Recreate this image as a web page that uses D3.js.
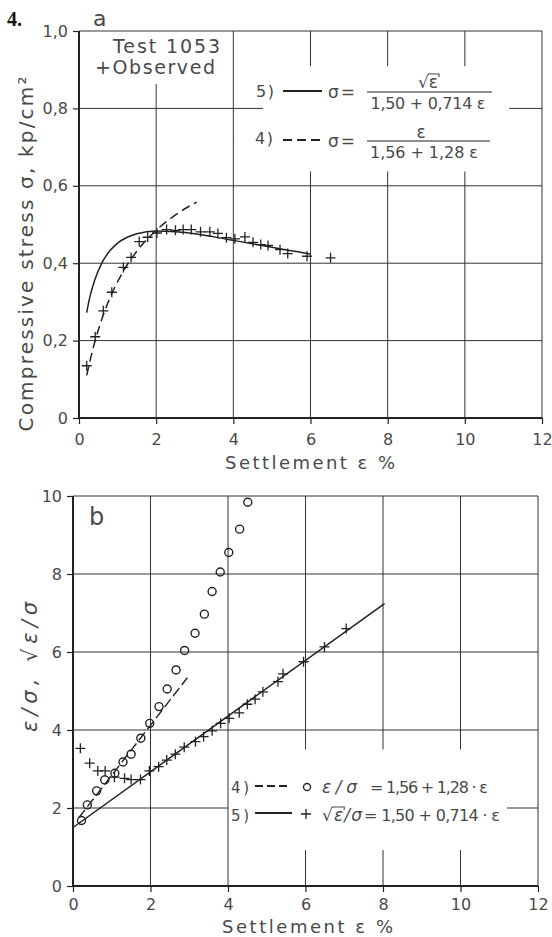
<!DOCTYPE html>
<html><head><meta charset="utf-8">
<script src="https://cdn.jsdelivr.net/npm/d3@7"></script>
<style>
body{margin:0;background:#fff}
svg{display:block}
text{font-family:'DejaVu Sans',sans-serif;fill:#4a4a4a}
</style>
</head><body>
<svg id="c" width="552" height="937"></svg>
<script>
// ---------- data ----------
const xTicks = [0, 2, 4, 6, 8, 10, 12];
const xTickLabels = ["0", "2", "4", "6", "8", "10", "12"];
const stressTicks = [0, 0.2, 0.4, 0.6, 0.8, 1.0];
const stressTickLabels = ["0", "0,2", "0,4", "0,6", "0,8", "1,0"];
const ratioTicks = [0, 2, 4, 6, 8, 10];
const ratioTickLabels = ["0", "2", "4", "6", "8", "10"];

// (a) observed stress vs settlement
const obsEps    = [0.2, 0.42, 0.63, 0.85, 1.15, 1.35, 1.56, 1.78, 2.02, 2.27, 2.5, 2.7, 2.91, 3.15, 3.39, 3.6, 3.82, 4.04, 4.3, 4.51, 4.71, 4.9, 5.21, 5.41, 5.91, 6.52];
const obsStress = [0.135, 0.21, 0.277, 0.325, 0.389, 0.415, 0.456, 0.467, 0.478, 0.487, 0.485, 0.487, 0.487, 0.481, 0.481, 0.477, 0.466, 0.463, 0.468, 0.454, 0.448, 0.446, 0.435, 0.425, 0.418, 0.414];

// (a) curve 5) solid
const fit5Eps    = [0.2, 0.25, 0.3, 0.4, 0.6, 0.8, 1.0, 1.25, 1.5, 2.0, 2.5, 3.0, 3.5, 4.0, 4.5, 5.0, 5.5, 6.0];
const fit5Stress = [0.272, 0.298, 0.320, 0.354, 0.402, 0.432, 0.452, 0.467, 0.476, 0.483, 0.481, 0.476, 0.468, 0.459, 0.450, 0.441, 0.432, 0.424];
// (a) curve 4) dashed
const fit4Eps    = [0.2, 0.3, 0.4, 0.6, 0.8, 1.0, 1.25, 1.5, 2.0, 2.5, 3.05];
const fit4Stress = [0.110, 0.154, 0.193, 0.258, 0.310, 0.352, 0.396, 0.431, 0.485, 0.525, 0.558];

// (b) circles: eps/sigma
const circEps   = [0.22, 0.37, 0.61, 0.82, 1.08, 1.29, 1.5, 1.75, 1.98, 2.22, 2.43, 2.66, 2.88, 3.15, 3.39, 3.59, 3.8, 4.02, 4.3, 4.51];
const circRatio = [1.68, 2.08, 2.44, 2.72, 2.89, 3.18, 3.38, 3.79, 4.17, 4.6, 5.05, 5.54, 6.04, 6.48, 6.97, 7.55, 8.05, 8.55, 9.15, 9.84];
// (b) crosses: sqrt(eps)/sigma
const crossEps   = [0.19, 0.43, 0.64, 0.83, 1.07, 1.33, 1.5, 1.74, 1.97, 2.21, 2.42, 2.64, 2.87, 3.16, 3.37, 3.59, 3.81, 4.03, 4.29, 4.5, 4.7, 4.9, 5.29, 5.42, 5.95, 6.49, 7.05];
const crossRatio = [3.53, 3.15, 2.95, 2.95, 2.79, 2.76, 2.73, 2.73, 2.95, 3.06, 3.23, 3.38, 3.56, 3.7, 3.83, 3.98, 4.17, 4.3, 4.44, 4.66, 4.79, 4.98, 5.24, 5.44, 5.75, 6.13, 6.6];
// (b) straight lines (end points)
const line4Eps = [0.15, 2.95], line4Ratio = [1.75, 5.34];
const line5Eps = [0.0, 8.04],  line5Ratio = [1.50, 7.24];

// ---------- drawing ----------
const svg = d3.select("#c");
const INK = "#222", GRID = "#333";

const xa = d3.scaleLinear().domain([0, 12]).range([79, 542]);
const ya = d3.scaleLinear().domain([0, 1]).range([418, 31]);
const xb = d3.scaleLinear().domain([0, 12]).range([73, 538]);
const yb = d3.scaleLinear().domain([0, 10]).range([886, 496]);

function segments(lo, hi, gaps) {
  let segs = [[lo, hi]];
  (gaps || []).forEach(([a, b]) => {
    const out = [];
    segs.forEach(([s, e]) => {
      if (b <= s || a >= e) out.push([s, e]);
      else { if (a > s) out.push([s, a]); if (b < e) out.push([b, e]); }
    });
    segs = out;
  });
  return segs;
}

function grid(g, xs, ys, xt, yt, vGaps, hGaps) {
  const [x0, x1] = xs.domain(), [y0, y1] = ys.domain();
  xt.filter(t => t !== 0).forEach(t => {
    segments(y0, y1, vGaps[t]).forEach(([a, b]) => {
      g.append("line").attr("x1", xs(t)).attr("x2", xs(t)).attr("y1", ys(a)).attr("y2", ys(b))
        .attr("stroke", GRID).attr("stroke-width", 1);
    });
  });
  yt.filter(t => t !== 0).forEach(t => {
    segments(x0, x1, hGaps[t]).forEach(([a, b]) => {
      g.append("line").attr("y1", ys(t)).attr("y2", ys(t)).attr("x1", xs(a)).attr("x2", xs(b))
        .attr("stroke", GRID).attr("stroke-width", 1);
    });
  });
}

function axes(g, xs, ys, xt, xl, yt, yl, xPad, yPad) {
  const ax = g.append("g").attr("transform", `translate(0,${ys(0)})`)
    .call(d3.axisBottom(xs).tickValues(xt).tickFormat((d, i) => xl[i]).tickSize(6).tickPadding(xPad));
  const ay = g.append("g").attr("transform", `translate(${xs(0)},0)`)
    .call(d3.axisLeft(ys).tickValues(yt).tickFormat((d, i) => yl[i]).tickSize(6).tickPadding(yPad));
  [ax, ay].forEach(a => {
    a.select(".domain").attr("stroke", INK).attr("stroke-width", 2);
    a.selectAll(".tick line").attr("stroke", INK).attr("stroke-width", 1.2);
    a.selectAll(".tick text").attr("font-size", 16).attr("fill", "#4a4a4a")
      .style("font-family", "'DejaVu Sans',sans-serif");
  });
  ax.select(".domain").attr("d", `M${xs.range()[0]},0H${xs.range()[1]}`);
  ay.select(".domain").attr("d", `M0,${ys.range()[0]}V${ys.range()[1]}`);
}

const plus = "M-5,0H5M0,-5V5";

// helpers
function T(x, y, s, size, opts = {}) {
  const t = svg.append("text").attr("x", x).attr("y", y).text(s).attr("font-size", size);
  if (opts.anchor) t.attr("text-anchor", opts.anchor);
  if (opts.len) t.attr("textLength", opts.len).attr("lengthAdjust", "spacing");
  if (opts.italic) t.attr("font-style", "italic");
  return t;
}
function L(x1, y1, x2, y2, w = 1.4, dash = null) {
  const l = svg.append("line").attr("x1", x1).attr("y1", y1).attr("x2", x2).attr("y2", y2)
    .attr("stroke", INK).attr("stroke-width", w);
  if (dash) l.attr("stroke-dasharray", dash);
  return l;
}
// overline above the radicand of a "√ε" that starts at character index idx
function overline(t, idx) {
  const n = t.node();
  const b1 = n.getExtentOfChar(idx - 1), b2 = n.getExtentOfChar(idx);
  const y = b1.y + 2;
  svg.append("path").attr("d", `M${b1.x + b1.width - 1},${y}H${b2.x + b2.width + 1}v3`)
    .attr("fill", "none").attr("stroke", "#4a4a4a").attr("stroke-width", 1.1);
}

// ===== chart a =====
const ga = svg.append("g");
grid(ga, xa, ya, xTicks, stressTicks,
  {2: [[0.863, 1.01]], 6: [[0.637, 0.909]], 8: [[0.637, 0.909]], 10: [[0.637, 0.909]]},
  {0.8: [[4.77, 11.15]]});
axes(ga, xa, ya, xTicks, xTickLabels, stressTicks, stressTickLabels, 10, 5);

const lineA = d3.line().curve(d3.curveMonotoneX);
ga.append("path").attr("d", lineA(fit5Eps.map((e, i) => [xa(e), ya(fit5Stress[i])])))
  .attr("fill", "none").attr("stroke", INK).attr("stroke-width", 1.5);
ga.append("path").attr("d", lineA(fit4Eps.map((e, i) => [xa(e), ya(fit4Stress[i])])))
  .attr("fill", "none").attr("stroke", INK).attr("stroke-width", 1.5).attr("stroke-dasharray", "9,5");
ga.selectAll(".obs").data(obsEps).join("path").attr("class", "obs")
  .attr("transform", (d, i) => `translate(${xa(d)},${ya(obsStress[i])})`)
  .attr("d", plus).attr("stroke", INK).attr("stroke-width", 1.3).attr("fill", "none");

// labels a
svg.append("text").attr("x", 7).attr("y", 26).text("4.")
  .style("font-family", "'Liberation Serif',serif").attr("font-weight", "bold").attr("font-size", 20).style("fill", "#111");
svg.append("text").attr("x", 93).attr("y", 26).text("a").attr("font-size", 22);
svg.append("text").attr("x", 113).attr("y", 53).text("Test 1053").attr("font-size", 19)
  .attr("textLength", 107).attr("lengthAdjust", "spacing");
svg.append("text").attr("x", 95).attr("y", 74).text("+Observed").attr("font-size", 19)
  .attr("textLength", 120).attr("lengthAdjust", "spacing");

// legend a
T(256, 97, "5)", 16, {len: 18});
L(283, 91, 322, 91, 2);
T(328, 98, "σ =", 17, {len: 27});
const num5 = T(428, 88, "√ε", 17, {anchor: "middle"});
overline(num5, 1);
L(367, 92, 492, 92, 1.2);
T(428, 109, "1,50 + 0,714 ε", 16, {anchor: "middle", len: 115});
T(255, 144, "4)", 16, {len: 18});
L(283, 140, 322, 140, 2, "9,5");
T(328, 147, "σ =", 17, {len: 27});
T(421, 138, "ε", 17, {anchor: "middle"});
L(367, 141, 490, 141, 1.2);
T(424, 158, "1,56 + 1,28 ε", 16, {anchor: "middle", len: 108});

// axis titles a
svg.append("text").attr("transform", "translate(33,254) rotate(-90)").attr("text-anchor", "middle")
  .attr("font-size", 20).attr("textLength", 355).attr("lengthAdjust", "spacing")
  .text("Compressive stress  σ,  kp/cm²");
svg.append("text").attr("x", 225).attr("y", 469).attr("font-size", 18)
  .attr("textLength", 170).attr("lengthAdjust", "spacing").text("Settlement  ε %");

// ===== chart b =====
const gb = svg.append("g");
grid(gb, xb, yb, xTicks, ratioTicks,
  {6: [[0.92, 3.5]], 8: [[0.92, 3.5]], 10: [[0.92, 3.5]]},
  {2: [[4.0, 11.2]]});
axes(gb, xb, yb, xTicks, xTickLabels, ratioTicks, ratioTickLabels, 7, 5);

gb.append("path").attr("d", d3.line()(line5Eps.map((e, i) => [xb(e), yb(line5Ratio[i])])))
  .attr("fill", "none").attr("stroke", INK).attr("stroke-width", 1.5);
gb.append("path").attr("d", d3.line()(line4Eps.map((e, i) => [xb(e), yb(line4Ratio[i])])))
  .attr("fill", "none").attr("stroke", INK).attr("stroke-width", 1.4).attr("stroke-dasharray", "10,4");
gb.selectAll(".circ").data(circEps).join("circle").attr("class", "circ")
  .attr("cx", d => xb(d)).attr("cy", (d, i) => yb(circRatio[i])).attr("r", 4)
  .attr("fill", "none").attr("stroke", INK).attr("stroke-width", 1.4);
gb.selectAll(".cr").data(crossEps).join("path").attr("class", "cr")
  .attr("transform", (d, i) => `translate(${xb(d)},${yb(crossRatio[i])})`)
  .attr("d", plus).attr("stroke", INK).attr("stroke-width", 1.3).attr("fill", "none");

svg.append("text").attr("x", 89).attr("y", 525).text("b").attr("font-size", 24);

// legend b
T(231, 793, "4)", 15, {len: 18});
L(255, 786, 291, 786, 2, "8,4");
svg.append("circle").attr("cx", 307).attr("cy", 787).attr("r", 3.5).attr("fill", "none").attr("stroke", INK).attr("stroke-width", 1.3);
T(322, 793, "ε/σ", 17, {italic: true, len: 35});
T(370, 793, "= 1,56 + 1,28 · ε", 16, {len: 118});
T(231, 821, "5)", 15, {len: 18});
L(255, 813, 292, 813, 2);
svg.append("path").attr("transform", "translate(306,814)").attr("d", plus).attr("stroke", INK).attr("stroke-width", 1.3);
const leg5 = T(322, 821, "√ε/σ", 17, {italic: true, len: 40});
overline(leg5, 1);
T(364, 821, "= 1,50 + 0,714 · ε", 16, {len: 136});

// axis titles b
svg.append("text").attr("transform", "translate(37,667) rotate(-90)").attr("text-anchor", "middle")
  .attr("font-size", 21).attr("font-style", "italic").attr("textLength", 130).attr("lengthAdjust", "spacing")
  .text("ε/σ, √ε/σ");
svg.append("text").attr("x", 222).attr("y", 933).attr("font-size", 18)
  .attr("textLength", 171).attr("lengthAdjust", "spacing").text("Settlement  ε %");
</script>
</body></html>
